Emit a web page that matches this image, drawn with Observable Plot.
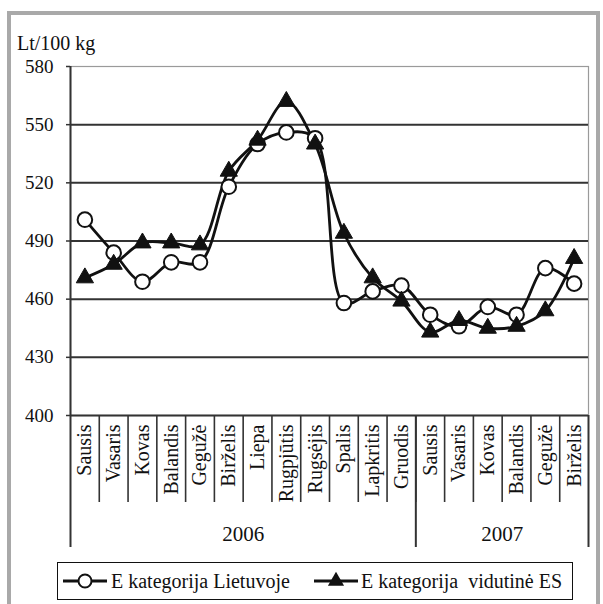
<!DOCTYPE html>
<html>
<head>
<meta charset="utf-8">
<script src="https://cdn.jsdelivr.net/npm/d3@7"></script>
<script src="https://cdn.jsdelivr.net/npm/@observablehq/plot@0.6"></script>
<style>
  html, body { margin: 0; padding: 0; background: #fff; }
  #wrap { position: relative; width: 603px; height: 604px; overflow: hidden; font-family: "Liberation Serif", "Times New Roman", serif; color: #111; }
  #frame { position: absolute; left: 7px; top: 11px; width: 585px; height: 640px; border: 4px solid #a9a9a9; box-sizing: content-box; }
  #chart { position: absolute; left: 0; top: 0; }
  #unit { position: absolute; left: 17px; top: 32px; font-size: 20px; line-height: 22px; }
  #legend { position: absolute; left: 57px; top: 562px; width: 514px; height: 36px; border: 1.5px solid #111; background: #fff; }
  .item { position: absolute; top: 0; height: 36px; display: flex; align-items: center; font-size: 20px; white-space: pre; }
</style>
</head>
<body>
<div id="wrap">
  <div id="frame"></div>
  <div id="chart"></div>
  <div id="unit">Lt/100 kg</div>
  <div id="legend"></div>
</div>
<script>
const months = ["Sausis","Vasaris","Kovas","Balandis","Gegužė","Birželis","Liepa","Rugpjūtis","Rugsėjis","Spalis","Lapkritis","Gruodis","Sausis","Vasaris","Kovas","Balandis","Gegužė","Birželis"];
const years = ["2006", "2007"];
const monthsPerYear = [12, 6];
const lietuva = [501, 484, 469, 479, 479, 518, 540, 546, 543, 458, 464, 467, 452, 446, 456, 452, 476, 468];
const vidutineES = [471, 478, 489, 489, 488, 526, 542, 562, 540, 494, 471, 459, 443, 449, 445, 446, 454, 481];
const yTicks = [400, 430, 460, 490, 520, 550, 580];
const seriesNames = ["E kategorija Lietuvoje", "E kategorija  vidutinė ES"];

const rows = months.map((m, i) => ({i: i + 1, month: m, lt: lietuva[i], es: vidutineES[i]}));
const monthIdx = rows.map(d => d.i);
const monthSeps = d3.range(1, months.length).map(k => k + 0.5);
let acc = 0.5;
const yearSeps = [acc];
const yearCenters = [];
monthsPerYear.forEach(n => { yearCenters.push(acc + n / 2); acc += n; yearSeps.push(acc); });

const ink = "#111";
const font = "Liberation Serif";

const chart = Plot.plot({
  width: 603,
  height: 560,
  marginLeft: 70,
  marginRight: 15,
  marginTop: 66,
  marginBottom: 145,
  style: {fontFamily: font, fontSize: "20px", color: ink, background: "transparent", overflow: "visible"},
  x: {type: "linear", domain: [0.5, months.length + 0.5], label: null},
  y: {domain: [400, 580], label: null},
  marks: [
    Plot.frame({stroke: "#9a9a9a", strokeWidth: 1.2}),
    Plot.gridY(yTicks.slice(1, -1), {stroke: "#333", strokeOpacity: 1, strokeWidth: 2}),
    Plot.ruleY([400], {stroke: "#333", strokeWidth: 2}),
    Plot.ruleX([0.5], {stroke: "#333", strokeWidth: 2}),
    Plot.axisY(yTicks, {tickSize: 4, tickPadding: 13, fontSize: 19, fontFamily: font, stroke: "#333", strokeWidth: 1.5, label: null}),
    Plot.axisX(monthSeps, {tickSize: 87, tickFormat: () => "", stroke: "#333", strokeWidth: 1.6, label: null}),
    Plot.axisX(yearSeps, {tickSize: 132, tickFormat: () => "", stroke: "#333", strokeWidth: 2, label: null}),
    Plot.axisX(monthIdx, {tickSize: 0, tickPadding: 9, tickRotate: -90, tickFormat: i => months[i - 1], fontSize: 20, fontFamily: font, label: null}),
    Plot.axisX(yearCenters, {tickSize: 0, tickPadding: 111, tickFormat: (v, k) => years[k], fontSize: 21, fontFamily: font, label: null}),
    Plot.line(rows, {x: "i", y: "lt", curve: "catmull-rom", stroke: ink, strokeWidth: 2.8}),
    Plot.line(rows, {x: "i", y: "es", curve: "catmull-rom", stroke: ink, strokeWidth: 2.8}),
    Plot.dot(rows, {x: "i", y: "lt", r: 7.3, fill: "white", stroke: ink, strokeWidth: 2}),
    Plot.dot(rows, {x: "i", y: "es", symbol: "triangle", r: 6.4, fill: ink, stroke: ink, strokeWidth: 1})
  ]
});
document.getElementById("chart").appendChild(chart);

// legend
const legend = document.getElementById("legend");
const circleSym = `<svg width="46" height="20" style="margin-right:3px"><line x1="1" y1="10" x2="45" y2="10" stroke="${ink}" stroke-width="2.8"/><circle cx="23" cy="10" r="6.5" fill="white" stroke="${ink}" stroke-width="2"/></svg>`;
const triSym = `<svg width="46" height="20" style="margin-right:2px"><line x1="1" y1="10" x2="45" y2="10" stroke="${ink}" stroke-width="2.8"/><path d="${d3.symbol(d3.symbolTriangle, Math.PI * 6 * 6)()}" transform="translate(23,10)" fill="${ink}"/></svg>`;
const it1 = document.createElement("div");
it1.className = "item"; it1.style.left = "4px";
it1.innerHTML = circleSym + "<span></span>";
it1.querySelector("span").textContent = seriesNames[0];
const it2 = document.createElement("div");
it2.className = "item"; it2.style.left = "255px";
it2.innerHTML = triSym + "<span></span>";
it2.querySelector("span").textContent = seriesNames[1];
legend.appendChild(it1);
legend.appendChild(it2);
</script>
</body>
</html>
